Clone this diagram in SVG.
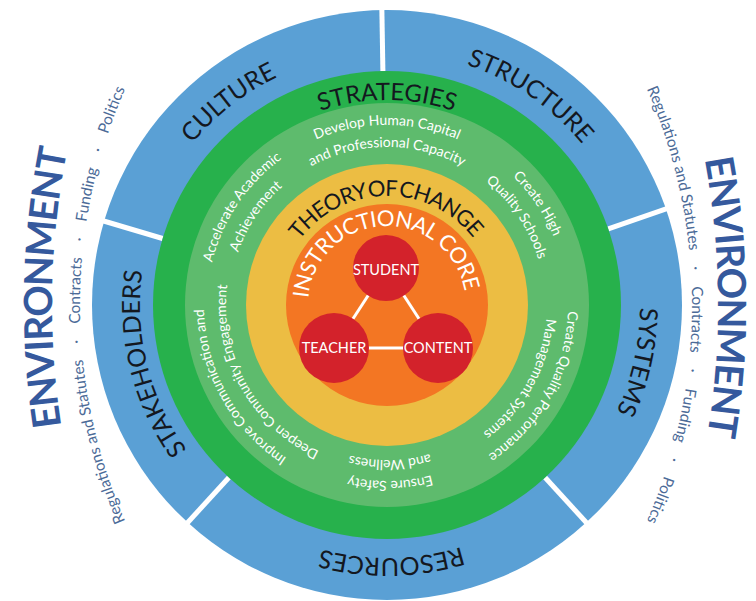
<svg xmlns="http://www.w3.org/2000/svg" width="756" height="601" viewBox="0 0 756 601">
<style>
text{font-family:Lato,"Open Sans","DejaVu Sans",sans-serif}
.ring{fill:#fff;font-size:14px;text-anchor:middle}
.lbl{fill:#14181f;font-size:25px;text-anchor:middle}
.env{fill:#35599d;font-size:39px;font-weight:bold;letter-spacing:-1.2px;text-anchor:middle}
.envs{fill:#4c6b98;font-size:15.5px;text-anchor:middle}
.node{fill:#fff;font-size:14.5px;text-anchor:middle}
.div{stroke:#fff;stroke-width:5}
.conn{stroke:#fff;stroke-width:3}
.red{fill:#d3222b}
</style>
<defs>
<path id="p253" d="M134,305 A253,253 0 0 1 387,52 A253,253 0 0 1 640,305"/>
<path id="p247" d="M140,305 A247,247 0 0 1 387,58 A247,247 0 0 1 634,305"/>
<path id="p205" d="M182,305 A205,205 0 0 1 387,100 A205,205 0 0 1 592,305"/>
<path id="p183" d="M204,305 A183,183 0 0 1 387,122 A183,183 0 0 1 570,305"/>
<path id="p181" d="M206,305 A181,181 0 0 1 387,124 A181,181 0 0 1 568,305"/>
<path id="p180" d="M207,305 A180,180 0 0 1 387,125 A180,180 0 0 1 567,305"/>
<path id="p176" d="M211,305 A176,176 0 0 1 387,129 A176,176 0 0 1 563,305"/>
<path id="p161" d="M226,305 A161,161 0 0 1 387,144 A161,161 0 0 1 548,305"/>
<path id="p160" d="M227,305 A160,160 0 0 1 387,145 A160,160 0 0 1 547,305"/>
<path id="p158" d="M229,305 A158,158 0 0 1 387,147 A158,158 0 0 1 545,305"/>
<path id="p155" d="M232,305 A155,155 0 0 1 387,150 A155,155 0 0 1 542,305"/>
<path id="p109" d="M278,305 A109,109 0 0 1 387,196 A109,109 0 0 1 496,305"/>
<path id="p79" d="M308,305 A79,79 0 0 1 387,226 A79,79 0 0 1 466,305"/>
<path id="envL" d="M852,1105 A800,800 0 0 1 52,305 A800,800 0 0 1 852,-495"/>
<path id="envsL" d="M620,845 A540,540 0 0 1 80,305 A540,540 0 0 1 620,-235"/>
<path id="envR" d="M-82,-495 A800,800 0 0 1 718,305 A800,800 0 0 1 -82,1105"/>
<path id="envsR" d="M152,-235 A540,540 0 0 1 692,305 A540,540 0 0 1 152,845"/>
</defs>
<rect width="756" height="601" fill="#fff"/>
<g id="rings">
<circle cx="387" cy="305" r="295" fill="#5aa0d5"/>
<line class="div" x1="382.9" y1="71" x2="381.8" y2="6"/>
<line class="div" x1="608.3" y1="228.8" x2="669.7" y2="207.6"/>
<line class="div" x1="545.1" y1="477.5" x2="589" y2="525.5"/>
<line class="div" x1="228.9" y1="477.5" x2="185" y2="525.5"/>
<line class="div" x1="162.6" y1="238.5" x2="100.3" y2="220"/>
<circle cx="387" cy="305" r="234" fill="#27b14c"/>
<circle cx="387" cy="305" r="202" fill="#5ebb6d"/>
<circle cx="387" cy="305" r="141" fill="#ecbd43"/>
<circle cx="387" cy="305" r="101" fill="#f37623"/>
</g>
<g id="environment-left">
<text class="env" transform="rotate(1.2 852 305)"><textPath href="#envL" startOffset="50%">ENVIRONMENT</textPath></text>
<text class="envs"><textPath href="#envsL" startOffset="50%">Regulations and Statutes&#160;&#160;&#160;&#160;·&#160;&#160;&#160;&#160;Contracts&#160;&#160;&#160;&#160;·&#160;&#160;&#160;&#160;Funding&#160;&#160;&#160;&#160;·&#160;&#160;&#160;&#160;Politics</textPath></text>
</g>
<g id="environment-right">
<text class="env" transform="rotate(-0.6 -82 305)"><textPath href="#envR" startOffset="50%">ENVIRONMENT</textPath></text>
<text class="envs"><textPath href="#envsR" startOffset="50%">Regulations and Statutes&#160;&#160;&#160;&#160;·&#160;&#160;&#160;&#160;Contracts&#160;&#160;&#160;&#160;·&#160;&#160;&#160;&#160;Funding&#160;&#160;&#160;&#160;·&#160;&#160;&#160;&#160;Politics</textPath></text>
</g>
<g id="culture"><text class="lbl" transform="rotate(-38 387 305)"><textPath href="#p253" startOffset="50%">CULTURE</textPath></text></g>
<g id="structure"><text class="lbl" transform="rotate(34.4 387 305)"><textPath href="#p253" startOffset="50%">STRUCTURE</textPath></text></g>
<g id="systems"><text class="lbl" transform="rotate(102.8 387 305)"><textPath href="#p253" startOffset="50%">SYSTEMS</textPath></text></g>
<g id="resources"><text class="lbl" transform="rotate(179 387 305)"><textPath href="#p253" startOffset="50%">RESOURCES</textPath></text></g>
<g id="stakeholders"><text class="lbl" transform="rotate(256 387 305)"><textPath href="#p247" startOffset="50%">STAKEHOLDERS</textPath></text></g>
<g id="strategies">
<text class="lbl" style="font-size:24px"><textPath href="#p205" startOffset="50%">STRATEGIES</textPath></text>
<text class="ring"><textPath href="#p180" startOffset="50%">Develop Human Capital</textPath></text>
<text class="ring"><textPath href="#p158" startOffset="50%">and Professional Capacity</textPath></text>
<text class="ring" transform="rotate(56 387 305)"><textPath href="#p180" startOffset="50%">Create High</textPath></text>
<text class="ring" transform="rotate(56 387 305)"><textPath href="#p158" startOffset="50%">Quality Schools</textPath></text>
<text class="ring" transform="rotate(-56 387 305)"><textPath href="#p180" startOffset="50%">Accelerate Academic</textPath></text>
<text class="ring" transform="rotate(-56 387 305)"><textPath href="#p158" startOffset="50%">Achievement</textPath></text>
<text class="ring" transform="rotate(119 387 305)"><textPath href="#p181" startOffset="50%">Create Quality Performance</textPath></text>
<text class="ring" transform="rotate(119 387 305)"><textPath href="#p160" startOffset="50%">Management Systems</textPath></text>
<text class="ring" transform="rotate(179 387 305)"><textPath href="#p176" startOffset="50%">Ensure Safety</textPath></text>
<text class="ring" transform="rotate(179 387 305)"><textPath href="#p155" startOffset="50%">and Wellness</textPath></text>
<text class="ring" transform="rotate(241 387 305)"><textPath href="#p183" startOffset="50%">Improve Communication and</textPath></text>
<text class="ring" transform="rotate(241 387 305)"><textPath href="#p161" startOffset="50%">Deepen Community Engagement</textPath></text>
</g>
<g id="theory-of-change">
<text class="lbl" style="font-size:22px;letter-spacing:-0.8px;word-spacing:-3px" transform="rotate(-0.8 387 305)"><textPath href="#p109" startOffset="50%">THEORY OF CHANGE</textPath></text>
</g>
<g id="instructional-core">
<text class="node" style="font-size:22px;letter-spacing:-0.5px" transform="rotate(-2.7 387 305)"><textPath href="#p79" startOffset="50%">INSTRUCTIONAL CORE</textPath></text>
</g>
<g id="connectors">
<line class="conn" x1="386" y1="268" x2="334" y2="348"/>
<line class="conn" x1="386" y1="268" x2="438" y2="348"/>
<line class="conn" x1="334" y1="348" x2="438" y2="348"/>
</g>
<g id="student"><circle class="red" cx="386" cy="268" r="33"/><text class="node" x="386" y="275">STUDENT</text></g>
<g id="teacher"><circle class="red" cx="334" cy="348" r="35"/><text class="node" x="334" y="353">TEACHER</text></g>
<g id="content"><circle class="red" cx="438" cy="348" r="35"/><text class="node" x="438" y="353">CONTENT</text></g>
</svg>
